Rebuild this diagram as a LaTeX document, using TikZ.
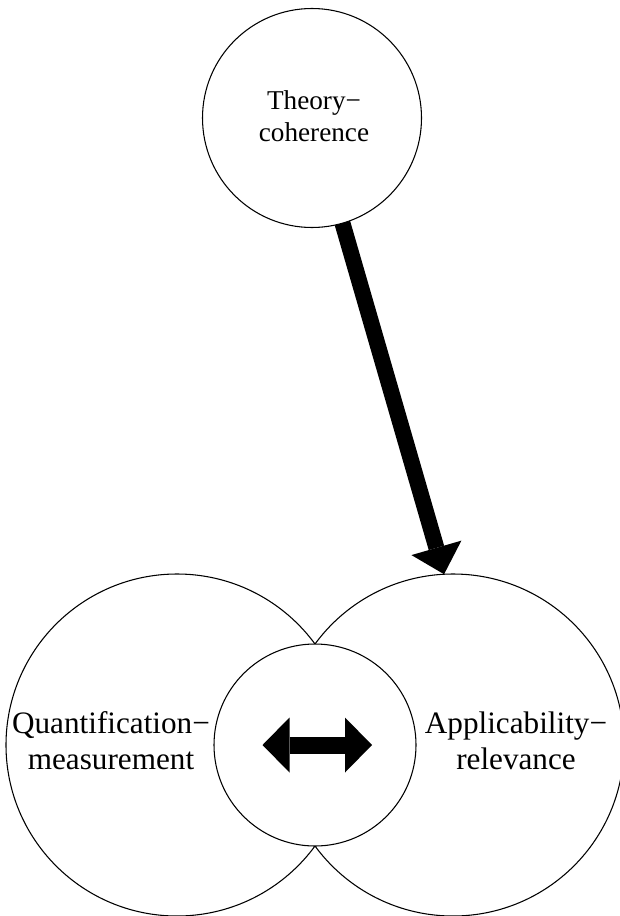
\documentclass[tikz,border=0pt]{standalone}
\usepackage{fontspec}
\setmainfont{Liberation Serif}
\usetikzlibrary{arrows.meta}
\begin{document}
\begin{tikzpicture}[x=0.75pt,y=-0.75pt,
  ring/.style={circle,draw,line width=0.8pt,inner sep=0pt,outer sep=0pt},
  bigtext/.style={align=center,inner sep=0pt,font=\fontsize{23.4}{27}\selectfont},
  toptext/.style={align=center,inner sep=0pt,font=\fontsize{20.4}{24}\selectfont},
  heavy/.style={line width=12pt,-{Triangle[length=20.6pt,width=39pt,line width=0pt]}},
  twoway/.style={line width=12.75pt,
    {Triangle[length=20.25pt,width=41.25pt,line width=0pt]}-{Triangle[length=20.25pt,width=41.25pt,line width=0pt]}},
]
\useasboundingbox (0,0) rectangle (620,916);

% the two large overlapping circles and the core circle over their lens
\node[ring,minimum size=256.5pt] (quant) at (177,745) {};
\node[ring,minimum size=256.5pt] (appl) at (453,745) {};
\node[ring,minimum size=151.5pt,fill=white] (core) at (315,745) {};

% top circle
\node[ring,minimum size=164.25pt] (theory) at (312,118) {};

% labels
\node[toptext] (theorylbl) at (314,116) {Theory−\\coherence};
\node[bigtext] (quantlbl) at (111,741) {Quantification−\\measurement};
\node[bigtext] (appllbl) at (516,741) {Applicability−\\relevance};

% heavy arrow from the top circle down to the right circle
\draw[heavy] (theory) -- (appl.93);

% two-way arrow inside the core circle
\coordinate (dl) at (262.5,745);
\coordinate (dr) at (372,745);
\draw[twoway] (dl) -- (dr);
\end{tikzpicture}
\end{document}
